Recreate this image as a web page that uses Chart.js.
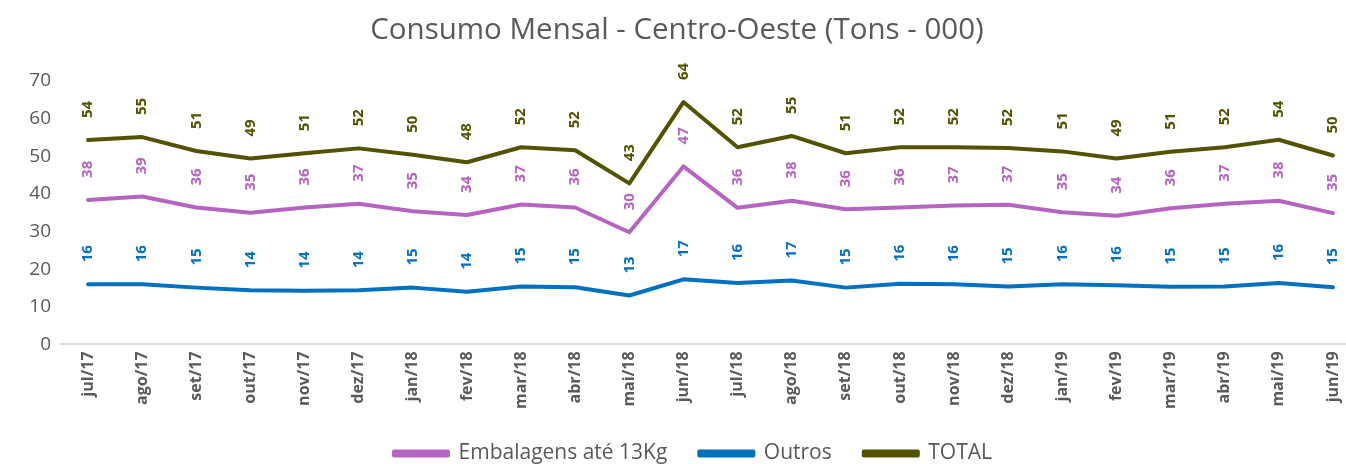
<!DOCTYPE html>
<html>
<head>
<meta charset="utf-8">
<script src="https://cdn.jsdelivr.net/npm/chart.js@4/dist/chart.umd.min.js"></script>
<style>
  html, body { margin: 0; padding: 0; background: #fff; overflow: hidden; }
  #wrap { width: 1346px; height: 464px; overflow: hidden; }
  #box { width: 1360px; height: 464px; }
</style>
</head>
<body>
<div id="wrap"><div id="box"><canvas id="lineChart"></canvas></div></div>
<script>
const months = ["jul/17", "ago/17", "set/17", "out/17", "nov/17", "dez/17", "jan/18", "fev/18",
  "mar/18", "abr/18", "mai/18", "jun/18", "jul/18", "ago/18", "set/18", "out/18", "nov/18",
  "dez/18", "jan/19", "fev/19", "mar/19", "abr/19", "mai/19", "jun/19"];
const embalagens = [38.4, 39.3, 36.4, 35.0, 36.4, 37.4, 35.4, 34.4, 37.2, 36.4, 29.8, 47.3,
  36.3, 38.2, 35.9, 36.4, 36.9, 37.1, 35.1, 34.2, 36.2, 37.4, 38.2, 34.9];
const outros = [16.0, 16.0, 15.1, 14.4, 14.3, 14.4, 15.1, 14.0, 15.4, 15.2, 13.0, 17.3,
  16.3, 17.0, 15.1, 16.1, 16.0, 15.4, 16.0, 15.7, 15.3, 15.4, 16.3, 15.2];
const total = [54.3, 55.1, 51.4, 49.4, 50.8, 52.1, 50.4, 48.4, 52.4, 51.6, 42.8, 64.4,
  52.4, 55.4, 50.8, 52.4, 52.4, 52.2, 51.3, 49.4, 51.2, 52.4, 54.4, 50.2];
const yTicks = [0, 10, 20, 30, 40, 50, 60, 70];
const chartTitle = 'Consumo Mensal - Centro-Oeste (Tons - 000)';

const FONT = "'Open Sans', sans-serif";

// vertical value labels above each point
const vLabels = {
  id: 'vLabels',
  afterDatasetsDraw(chart) {
    const ctx = chart.ctx;
    chart.data.datasets.forEach((ds, i) => {
      const meta = chart.getDatasetMeta(i);
      meta.data.forEach((pt, j) => {
        ctx.save();
        ctx.translate(pt.x, pt.y - 22);
        ctx.rotate(-Math.PI / 2);
        ctx.font = "bold 15px " + FONT;
        ctx.fillStyle = ds.borderColor;
        ctx.textAlign = 'left';
        ctx.textBaseline = 'middle';
        ctx.fillText(Math.round(ds.data[j]).toString(), 0, 0);
        ctx.restore();
      });
    });
  }
};

// title drawn by hand so it can sit off the legend's centre
const topTitle = {
  id: 'topTitle',
  afterDraw(chart) {
    const ctx = chart.ctx;
    ctx.save();
    ctx.font = "29.5px " + FONT;
    ctx.fillStyle = '#595959';
    ctx.textAlign = 'center';
    ctx.textBaseline = 'middle';
    ctx.fillText(chartTitle, 677, 31);
    ctx.restore();
  }
};

const ctx = document.getElementById('lineChart').getContext('2d');
new Chart(ctx, {
  type: 'line',
  data: {
    labels: months,
    datasets: [{
      label: 'Embalagens até 13Kg',
      data: embalagens,
      borderColor: '#B565C0',
      backgroundColor: '#B565C0'
    }, {
      label: 'Outros',
      data: outros,
      borderColor: '#0070C0',
      backgroundColor: '#0070C0'
    }, {
      label: 'TOTAL',
      data: total,
      borderColor: '#525200',
      backgroundColor: '#525200'
    }]
  },
  options: {
    responsive: true,
    maintainAspectRatio: false,
    animation: false,
    elements: {
      line: { borderWidth: 4, tension: 0, borderCapStyle: 'round', borderJoinStyle: 'round' },
      point: { radius: 0 }
    },
    layout: { padding: { top: 81, left: 26, right: 0, bottom: -10 } },
    scales: {
      x: {
        offset: true,
        grid: { display: false, drawTicks: false },
        border: { display: true, color: '#D9D9D9', width: 2 },
        afterFit: (s) => { s.height -= 5; },
        ticks: {
          minRotation: 90, maxRotation: 90, autoSkip: false, padding: 7,
          color: '#595959', font: { family: FONT, size: 16, weight: 'bold' }
        }
      },
      y: {
        min: 0, max: 70,
        afterBuildTicks: (s) => { s.ticks = yTicks.map(v => ({ value: v })); },
        afterFit: (s) => { s.width = 35; },
        grid: { display: false, drawTicks: false },
        border: { display: false },
        ticks: {
          padding: 10,
          color: '#595959', font: { family: FONT, size: 19 }
        }
      }
    },
    plugins: {
      title: { display: false },
      legend: {
        position: 'bottom',
        labels: {
          boxWidth: 54, boxHeight: 4, padding: 32,
          color: '#595959', font: { family: FONT, size: 21 }
        }
      },
      tooltip: { enabled: false }
    }
  },
  plugins: [vLabels, topTitle]
});
</script>
</body>
</html>
